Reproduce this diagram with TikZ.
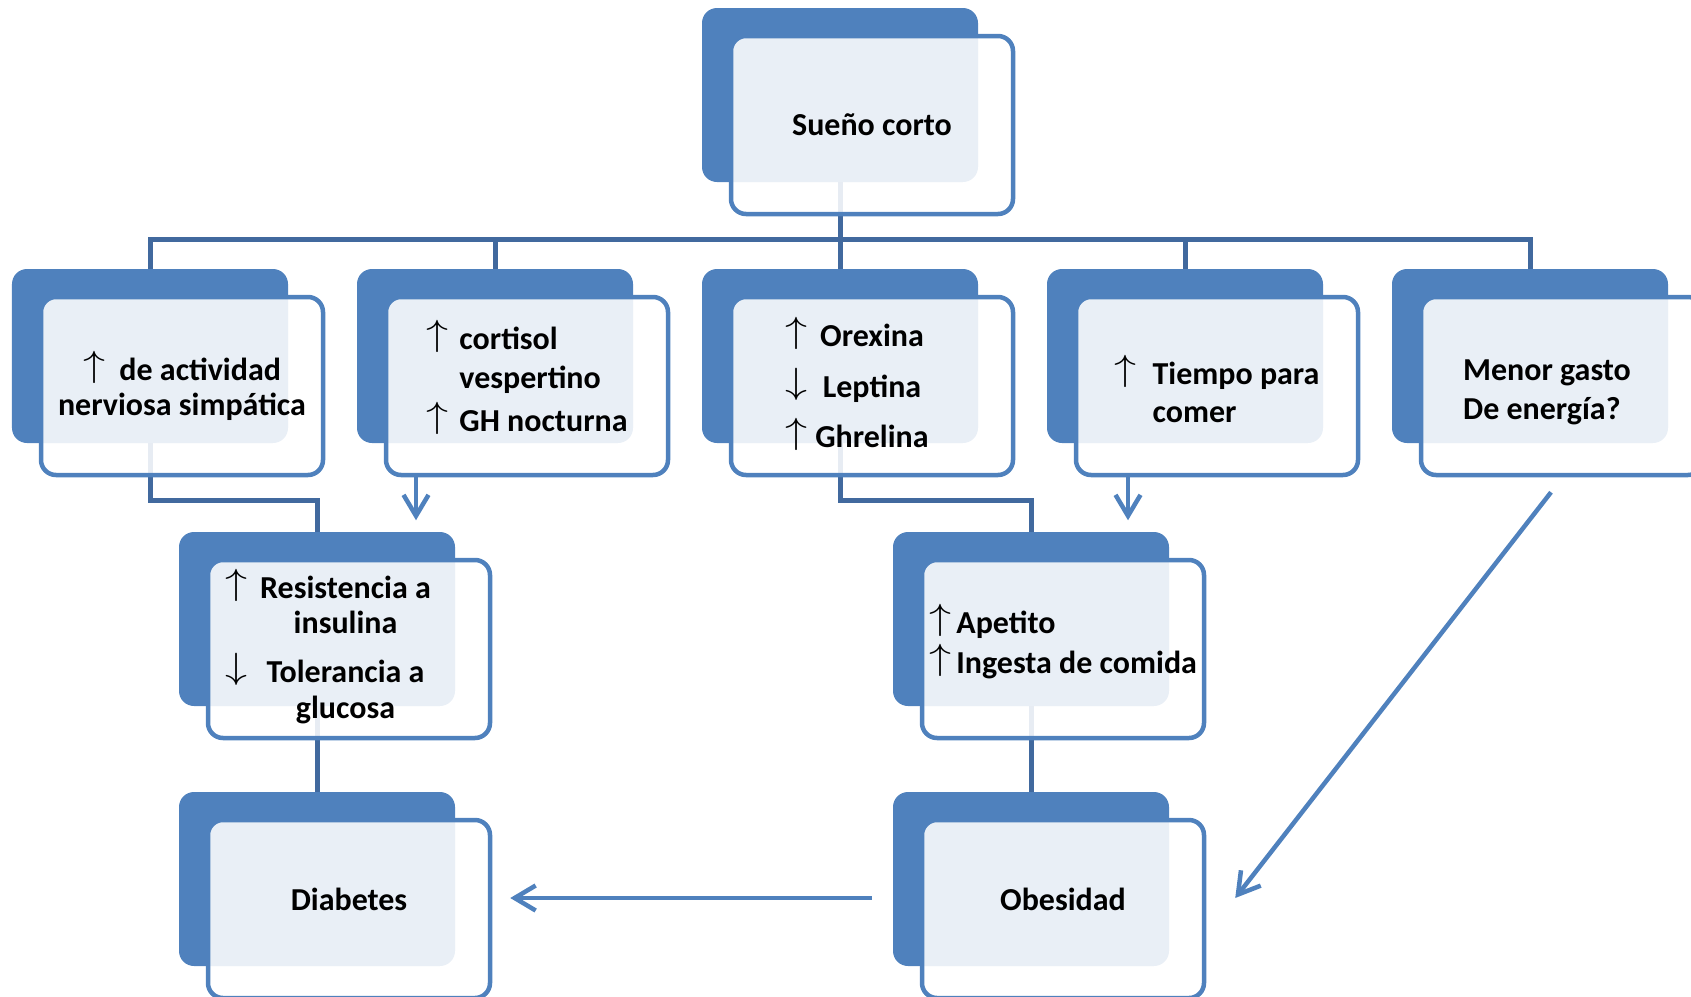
\documentclass[tikz,border=0pt]{standalone}
\usepackage{fontspec}
\setmainfont{Carlito}
\definecolor{cardblue}{HTML}{4F81BD}
\definecolor{treeblue}{HTML}{41699E}
\usetikzlibrary{arrows.meta,calc}
\newcommand{\arrup}{\raisebox{0.08cm}{\scalebox{1.45}[1.2]{$\uparrow$}}}
\newcommand{\arrdown}{\raisebox{0.08cm}{\scalebox{1.45}[1.2]{$\downarrow$}}}
\newcommand{\shifttext}[2]{\raisebox{#1}[\height][\depth]{#2}}
\tikzset{
    cardback/.style={
        fill=cardblue,
        rounded corners=0.3cm,
        minimum width=5.52cm,
        minimum height=3.48cm,
        inner sep=0pt
    },
    card/.style={
        draw=cardblue,
        fill=white,
        fill opacity=0.88,
        text opacity=1,
        line width=0.09cm,
        rounded corners=0.3cm,
        minimum width=5.64cm,
        minimum height=3.56cm,
        inner sep=0pt,
        align=center,
        font=\fontsize{18.2}{20.2}\selectfont\bfseries
    },
    treeline/.style={
        draw=treeblue,
        line width=0.1cm
    },
    cardarrow/.style={
        -{Straight Barb[length=0.42cm,width=0.5cm]},
        draw=cardblue,
        line width=0.09cm
    }
}

\begin{document}
\begin{tikzpicture}
    \useasboundingbox (0,0) rectangle (33.82,-19.94);
    \clip (0,0) rectangle (33.82,-19.94);

    % back plates
    \node[cardback] (suenoB) at (16.80,-1.90) {};
    \node[cardback] (simpB) at (3.00,-7.12) {};
    \node[cardback] (cortB) at (9.90,-7.12) {};
    \node[cardback] (orexB) at (16.80,-7.12) {};
    \node[cardback] (tiempoB) at (23.70,-7.12) {};
    \node[cardback] (energB) at (30.60,-7.12) {};
    \node[cardback] (insulB) at (6.34,-12.38) {};
    \node[cardback] (apetB) at (20.62,-12.38) {};
    \node[cardback] (diabB) at (6.34,-17.58) {};
    \node[cardback] (obesB) at (20.62,-17.58) {};

    % tree
    \draw[treeline] (suenoB.south) -- ++(0,-1.14) -| (simpB.north);
    \draw[treeline] (suenoB.south) -- ++(0,-1.14) -| (cortB.north);
    \draw[treeline] (suenoB.south) -- (orexB.north);
    \draw[treeline] (suenoB.south) -- ++(0,-1.14) -| (tiempoB.north);
    \draw[treeline] (suenoB.south) -- ++(0,-1.14) -| (energB.north);
    \draw[treeline] (simpB.south) -- ++(0,-1.14) -| (insulB.north);
    \draw[treeline] (orexB.south) -- ++(0,-1.14) -| (apetB.north);
    \draw[treeline] (insulB.south) -- (diabB.north);
    \draw[treeline] (apetB.south) -- (obesB.north);

    % cards
    \node[card] (sueno) at (17.44,-2.50) {Sueño corto};
    \node[card] (simp) at (3.64,-7.72)
        {\arrup\ \ de actividad\\nerviosa simpática};
    \node[card] (cort) at (10.54,-7.72)
        {\shifttext{0.1cm}{\begin{tabular}{@{}l@{\hspace{0.22cm}}l@{}}
         \arrup & cortisol\\[2pt]
                & vespertino\\[2pt]
         \arrup & GH nocturna
         \end{tabular}}};
    \node[card] (orex) at (17.44,-7.72)
        {\shifttext{-0.04cm}{\begin{tabular}{@{}c@{\hspace{0.16cm}}c@{\hspace{0.6cm}}}
         \arrup   & Orexina\\[6pt]
         \arrdown & Leptina\\[6pt]
         \arrup   & Ghrelina
         \end{tabular}}};
    \node[card] (tiempo) at (24.34,-7.72)
        {\shifttext{-0.17cm}{\begin{tabular}{@{}l@{\hspace{0.32cm}}l@{}}
         \arrup & Tiempo para\\[1.5pt]
                & comer
         \end{tabular}}};
    \node[card] (energ) at (31.24,-7.72)
        {\shifttext{-0.13cm}{\begin{tabular}{@{}l@{\hspace{0.6cm}}}
         Menor gasto\\[2pt]
         De energía?
         \end{tabular}}};
    \node[card] (insul) at (6.98,-12.98)
        {\begin{tabular}{@{}c@{\hspace{0.26cm}}c@{\hspace{0.84cm}}}
         \arrup   & Resistencia a\\
                  & insulina\\[5pt]
         \arrdown & Tolerancia a\\
                  & glucosa
         \end{tabular}};
    \node[card] (apet) at (21.26,-12.98)
        {\shifttext{0.1cm}{\begin{tabular}{@{}l@{}}
         \arrup\,Apetito\\
         \arrup\,Ingesta de comida
         \end{tabular}}};
    \node[card] (diab) at (6.98,-18.18) {\shifttext{0.2cm}{Diabetes}};
    \node[card] (obes) at (21.26,-18.18) {\shifttext{0.2cm}{Obesidad}};

    % arrows
    \draw[cardarrow] ($(cort.south)+(-2.22,0)$) -- ++(0,-0.86);
    \draw[cardarrow] ($(tiempo.south)+(-1.78,0)$) -- ++(0,-0.86);
    \draw[cardarrow] ($(obes.west)+(-0.96,0.22)$) -- ($(diab.east)+(0.36,0.22)$);
    \draw[cardarrow] ($(energ.south)+(-0.22,-0.30)$) -- ($(obes.east)+(0.58,0.22)$);
\end{tikzpicture}
\end{document}
